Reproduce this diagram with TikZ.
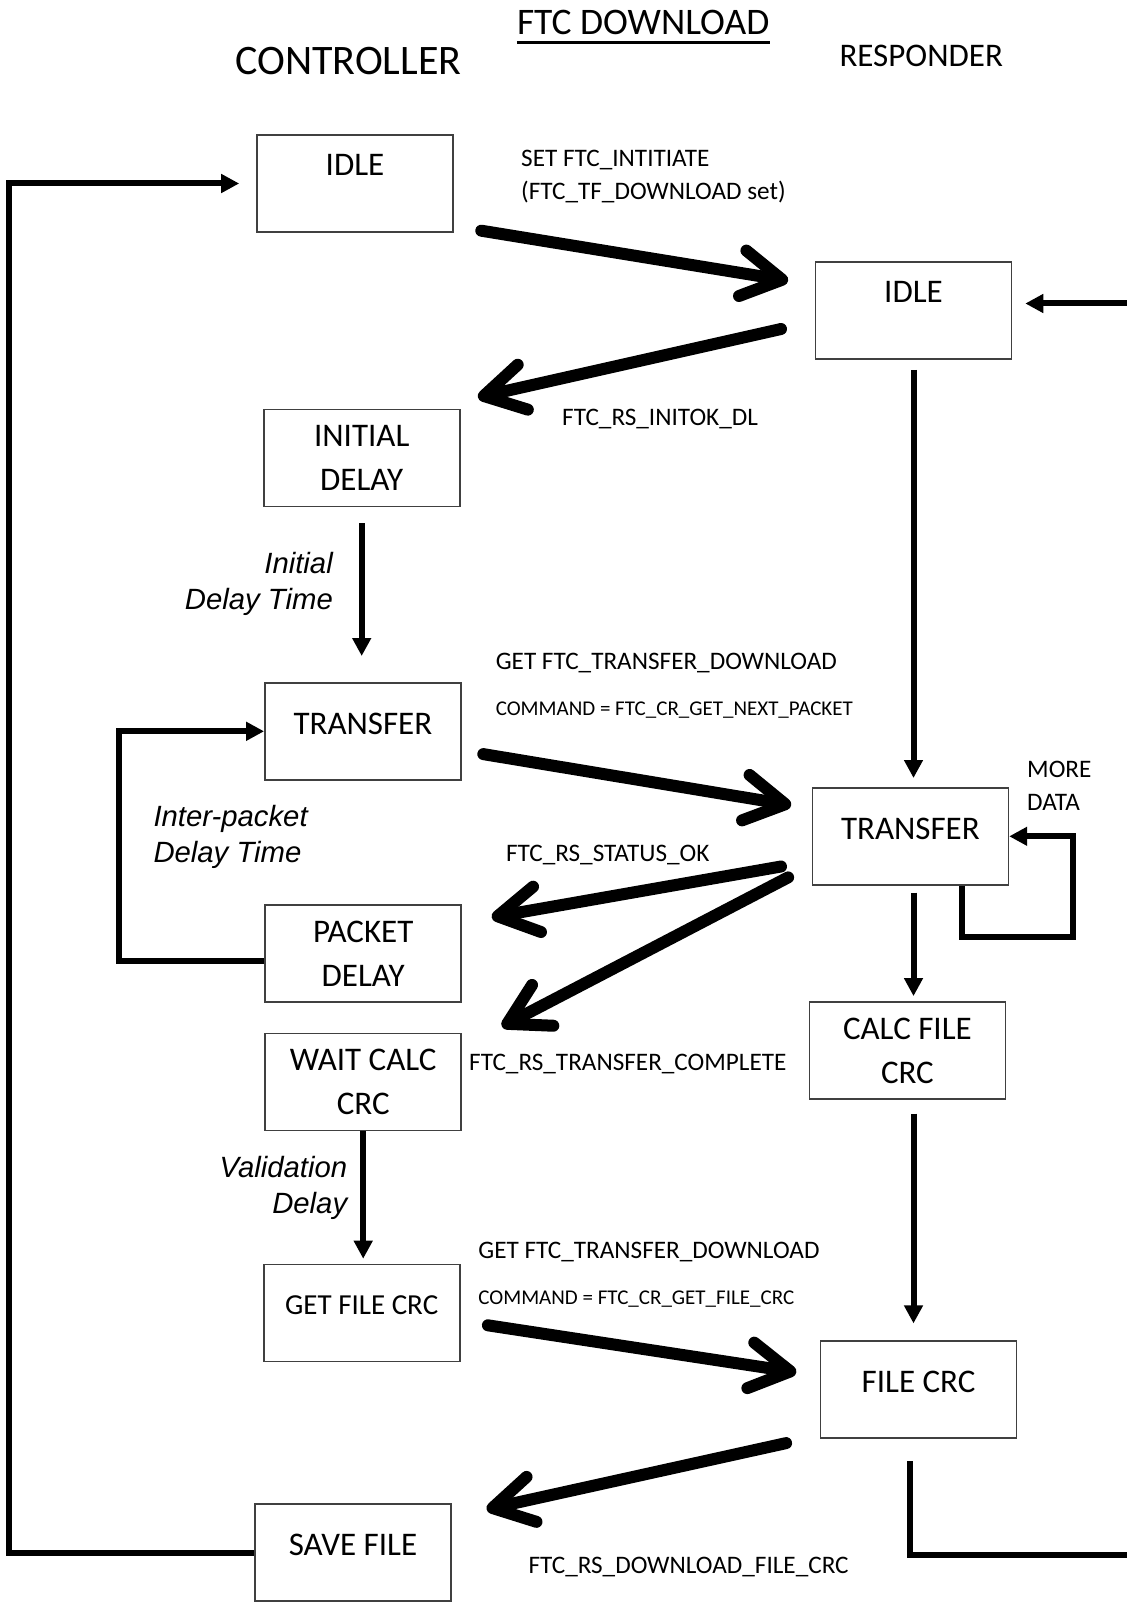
\documentclass[tikz,border=0pt]{standalone}
\usepackage{fontspec}
\setmainfont{Carlito}
\newfontfamily\arialfont{Liberation Sans}
\usetikzlibrary{arrows.meta}

\begin{document}
\begin{tikzpicture}[x=1pt, y=-1pt,
  state/.style={draw=black!75, line width=1.6pt, minimum width=196pt, minimum height=97pt,
    inner sep=0pt, align=center, font=\fontsize{33}{44}\selectfont, text depth=16pt},
  state two/.style={state, text depth=},
  paths/.style={line width=6pt, -{Triangle[length=18pt, width=18pt]}},
  bigpaths/.style={line width=12pt, line cap=round, -{Straight Barb[round, length=40pt, width=46pt]}},
  lbl/.style={anchor=base west, inner sep=0pt, align=left, font=\fontsize{25.2}{33}\selectfont},
  small/.style={anchor=base west, inner sep=0pt, font=\fontsize{21}{25}\selectfont},
  note/.style={inner sep=0pt, font=\arialfont\itshape\fontsize{29.3}{36}\selectfont}]

 \useasboundingbox (0,0) rectangle (1126,1602);


 \node (title) at (643.2,34.5) [anchor=base, inner sep=0pt, font=\fontsize{37.5}{40}\selectfont]
     {FTC DOWNLOAD};
 \draw [line width=3pt] ([yshift=-8.5pt]title.base west) -- ([yshift=-8.5pt]title.base east);

 \node (controller) at (348.4,74.8) [anchor=base, font=\fontsize{42}{44}\selectfont]
     {CONTROLLER};

 \node (responder) at (921.2,66.8) [anchor=base, font=\fontsize{33}{36}\selectfont]
     {RESPONDER};


 \node (idle_c) at (355,183.5) [state, text depth=37pt]
     {IDLE};

 \node (init_c) at (361.7,457.8) [state two]
     {INITIAL\\DELAY};

 \node (trans_c) at (362.9,731.3) [state]
     {TRANSFER};

 \node (pack_c) at (363.2,953.3) [state two]
     {PACKET\\DELAY};

 \node (wait_c) at (363.2,1082) [state two]
     {WAIT CALC\\CRC};

 \node (get_c) at (361.7,1313) [state, font=\fontsize{29}{40}\selectfont, text depth=15pt]
     {GET FILE CRC};

 \node (save_c) at (353,1552.5) [state]
     {SAVE FILE};


 \node (idle_r) at (913.5,310.6) [state, text depth=37pt]
     {IDLE};

 \node (trans_r) at (910.4,836.3) [state]
     {TRANSFER};

 \node (calc_r) at (907.4,1050.4) [state two]
     {CALC FILE\\CRC};

 \node (fcrc_r) at (918.6,1389.7) [state]
     {FILE CRC};


 \node (lbl_initiate) at (521,199.4) [lbl]
     {SET FTC\_INTITIATE\\(FTC\_TF\_DOWNLOAD set)};
 \node (lbl_initok) at (562,425) [lbl]
     {FTC\_RS\_INITOK\_DL};
 \node (note_initial) at (333,609.5) [note, anchor=base east, align=right]
     {Initial\\Delay Time};
 \node (lbl_get_next) at (495.6,669) [lbl]
     {GET FTC\_TRANSFER\_DOWNLOAD};
 \node (cmd_next) at (495.6,715) [small]
     {COMMAND = FTC\_CR\_GET\_NEXT\_PACKET};
 \node (lbl_more) at (1027,810) [lbl]
     {MORE\\DATA};
 \node (note_inter) at (153.3,862) [note, anchor=base west, align=left]
     {Inter-packet\\Delay Time};
 \node (lbl_ok) at (505.8,861) [lbl]
     {FTC\_RS\_STATUS\_OK};
 \node (lbl_complete) at (469,1070.7) [lbl]
     {FTC\_RS\_TRANSFER\_COMPLETE};
 \node (note_valid) at (347.4,1213.7) [note, anchor=base east, align=right]
     {Validation\\Delay};
 \node (lbl_get_crc) at (478.2,1258.7) [lbl]
     {GET FTC\_TRANSFER\_DOWNLOAD};
 \node (cmd_crc) at (478.2,1304.5) [small]
     {COMMAND = FTC\_CR\_GET\_FILE\_CRC};
 \node (lbl_dl_crc) at (528.3,1573.4) [lbl]
     {FTC\_RS\_DOWNLOAD\_FILE\_CRC};


 \coordinate (loop_out) at (1140,1555);
 \coordinate (loop_in) at (1140,303.5);


 \draw [bigpaths] ([shift={(27.5,-2.1)}]idle_c.south east) -- ([shift={(-26.6,19.4)}]idle_r.north west);
 \draw [bigpaths] ([shift={(-33.7,18.4)}]idle_r.west) -- ([shift={(17.4,-11.2)}]init_c.north east);
 \draw [bigpaths] ([shift={(21.6,22.8)}]trans_c.east) -- ([shift={(-20.4,-31.1)}]trans_r.west);
 \draw [bigpaths] ([shift={(-30.6,30.2)}]trans_r.west) -- ([shift={(29.7,13.3)}]pack_c.north east);
 \draw [bigpaths] ([shift={(-23.5,-8.2)}]trans_r.south west) -- ([shift={(39.9,-6.1)}]wait_c.north east);
 \draw [bigpaths] ([shift={(27.4,12.3)}]get_c.east) -- ([shift={(-23.5,-17.4)}]fcrc_r.west);
 \draw [bigpaths] ([shift={(-33.7,4.1)}]fcrc_r.south west) -- ([shift={(34.8,6.1)}]save_c.north east);


 \draw [paths] (save_c.west) -- ++(-245,0) |- ([xshift=-17pt]idle_c.west);
 \draw [line width=6pt] ([xshift=-9pt,yshift=-22pt]fcrc_r.south) |- (loop_out);
 \draw [paths, shorten >=13pt] (loop_in) -- (loop_in -| idle_r.east);
 \draw [paths, shorten <=10pt, shorten >=9pt] (idle_r.south) -- (idle_r.south |- trans_r.north);
 \draw [paths, shorten <=16pt, shorten >=26pt] (init_c.south) -- (init_c.south |- trans_c.north);
 \draw [paths] ([yshift=-8pt]pack_c.west) -- ++(-145,0) |- (trans_c.west);
 \draw [paths] ([xshift=52pt]trans_r.south) -- ++(0,51) -- ++(110.5,0) |- (trans_r.east);
 \draw [paths, shorten <=7pt, shorten >=5pt] (idle_r.south |- trans_r.south) -- (idle_r.south |- calc_r.north);
 \draw [paths, shorten >=5pt] (wait_c.south) -- (wait_c.south |- get_c.north);
 \draw [paths, shorten <=14pt, shorten >=17pt] (idle_r.south |- calc_r.south) -- (idle_r.south |- fcrc_r.north);


 \end{tikzpicture}
\end{document}
